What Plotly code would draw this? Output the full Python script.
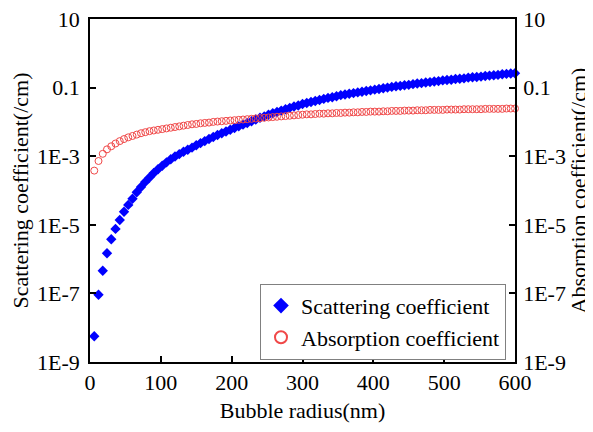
import plotly.graph_objects as go

# Bubble radius (nm)
radius_nm = [6, 12, 18, 24, 30, 36, 42, 48, 54, 60,
             66, 72, 78, 84, 90, 96, 102, 108, 114, 120,
             126, 132, 138, 144, 150, 156, 162, 168, 174, 180,
             186, 192, 198, 204, 210, 216, 222, 228, 234, 240,
             246, 252, 258, 264, 270, 276, 282, 288, 294, 300,
             306, 312, 318, 324, 330, 336, 342, 348, 354, 360,
             366, 372, 378, 384, 390, 396, 402, 408, 414, 420,
             426, 432, 438, 444, 450, 456, 462, 468, 474, 480,
             486, 492, 498, 504, 510, 516, 522, 528, 534, 540,
             546, 552, 558, 564, 570, 576, 582, 588, 594, 600]

# log10 of scattering coefficient (/cm)
scattering_log10 = [-8.25, -7.04, -6.34, -5.83, -5.42, -5.12, -4.86, -4.62, -4.42, -4.24,
                    -4.05, -3.90, -3.75, -3.62, -3.49, -3.38, -3.28, -3.18, -3.09, -3.01,
                    -2.94, -2.87, -2.81, -2.75, -2.68, -2.62, -2.56, -2.50, -2.44, -2.38,
                    -2.33, -2.28, -2.23, -2.18, -2.13, -2.08, -2.03, -1.98, -1.93, -1.88,
                    -1.84, -1.79, -1.75, -1.71, -1.67, -1.63, -1.59, -1.55, -1.52, -1.48,
                    -1.45, -1.42, -1.39, -1.36, -1.33, -1.30, -1.28, -1.25, -1.22, -1.20,
                    -1.18, -1.16, -1.14, -1.12, -1.10, -1.08, -1.06, -1.04, -1.02, -1.00,
                    -0.98, -0.96, -0.95, -0.93, -0.92, -0.90, -0.88, -0.87, -0.85, -0.84,
                    -0.82, -0.81, -0.79, -0.78, -0.77, -0.75, -0.74, -0.73, -0.71, -0.70,
                    -0.69, -0.68, -0.66, -0.65, -0.64, -0.63, -0.61, -0.60, -0.59, -0.58]

# log10 of absorption coefficient (/cm)
absorption_log10 = [-3.42, -3.14, -2.93, -2.80, -2.71, -2.63, -2.56, -2.50, -2.45, -2.41,
                    -2.37, -2.33, -2.30, -2.27, -2.25, -2.23, -2.21, -2.19, -2.17, -2.15,
                    -2.13, -2.11, -2.09, -2.07, -2.06, -2.04, -2.03, -2.02, -2.00, -1.99,
                    -1.98, -1.97, -1.96, -1.95, -1.94, -1.93, -1.92, -1.91, -1.90, -1.89,
                    -1.88, -1.87, -1.86, -1.85, -1.84, -1.83, -1.82, -1.81, -1.80, -1.79,
                    -1.78, -1.78, -1.77, -1.76, -1.76, -1.75, -1.75, -1.74, -1.74, -1.73,
                    -1.73, -1.72, -1.72, -1.71, -1.71, -1.70, -1.70, -1.70, -1.69, -1.69,
                    -1.68, -1.68, -1.68, -1.67, -1.67, -1.67, -1.66, -1.66, -1.66, -1.65,
                    -1.65, -1.65, -1.65, -1.64, -1.64, -1.64, -1.64, -1.63, -1.63, -1.63,
                    -1.63, -1.63, -1.62, -1.62, -1.62, -1.62, -1.62, -1.61, -1.61, -1.61]

x_ticks = [0, 100, 200, 300, 400, 500, 600]
y_tick_vals = [1e-9, 1e-7, 1e-5, 1e-3, 0.1, 10]
y_tick_text = ["1E-9", "1E-7", "1E-5", "1E-3", "0.1", "10"]

scattering = [10 ** v for v in scattering_log10]
absorption = [10 ** v for v in absorption_log10]

FONT = "Liberation Serif, Times New Roman, serif"

fig = go.Figure()
fig.add_trace(go.Scatter(
    x=radius_nm, y=scattering, mode="markers", name="Scattering coefficient",
    marker=dict(symbol="diamond", size=8, color="#0000ff", line=dict(width=0)),
    yaxis="y", cliponaxis=False))
fig.add_trace(go.Scatter(
    x=radius_nm, y=absorption, mode="markers", name="Absorption coefficient",
    marker=dict(symbol="circle-open", size=7, color="#f04848", line=dict(width=1)),
    yaxis="y2", cliponaxis=False))

axis_common = dict(
    showline=True, linecolor="black", linewidth=1.5,
    ticks="inside", ticklen=6, tickwidth=1.5, tickcolor="black",
    showgrid=False, zeroline=False, automargin=False,
    ticklabeloverflow="allow",
    tickfont=dict(family=FONT, size=22, color="black"),
)

# The page body has an 8 px margin, so the figure is 8 px smaller and margins shifted.
fig.update_layout(
    width=585, height=424,
    margin=dict(l=82, r=78, t=11, b=70),
    paper_bgcolor="white", plot_bgcolor="white",
    font=dict(family=FONT, size=22, color="black"),
    showlegend=True,
    legend=dict(
        x=0.40, y=0.228, xanchor="left", yanchor="top",
        bordercolor="#808080", borderwidth=1, bgcolor="white",
        font=dict(family=FONT, size=22, color="black"),
        tracegroupgap=0, itemsizing="constant",
    ),
    xaxis=dict(
        range=[0, 600], tickvals=x_ticks, mirror=True,
        ticklabelstandoff=0,
        title=dict(text="Bubble radius(nm)", font=dict(family=FONT, size=22), standoff=8),
        **axis_common,
    ),
    yaxis=dict(
        type="log", range=[-9, 1], tickvals=y_tick_vals, ticktext=y_tick_text,
        ticklabelstandoff=4,
        title=dict(text="Scattering coefficient(/cm)", font=dict(family=FONT, size=22), standoff=6),
        **axis_common,
    ),
    yaxis2=dict(
        type="log", range=[-9, 1], tickvals=y_tick_vals, ticktext=y_tick_text,
        overlaying="y", side="right", ticklabelstandoff=2,
        title=dict(text="Absorption coefficient(/cm)", font=dict(family=FONT, size=22), standoff=2),
        **axis_common,
    ),
)

fig.write_html("out.html")
